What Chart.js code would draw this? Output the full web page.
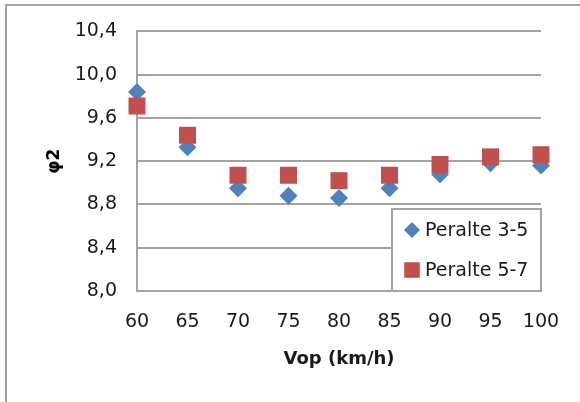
<!DOCTYPE html>
<html>
<head>
<meta charset="utf-8">
<script src="https://cdn.jsdelivr.net/npm/chart.js@4"></script>
<style>
  html, body { margin: 0; padding: 0; background: #ffffff; }
  #wrap { position: relative; width: 580px; height: 402px; overflow: hidden; }
  #frame { position: absolute; left: 5px; top: 4px; right: -4px; bottom: -4px;
           border-top: 2px solid #a3a3a3; border-left: 2px solid #a3a3a3; pointer-events: none; }
  canvas { position: absolute; left: 0; top: 0; }
</style>
</head>
<body>
<div id="wrap">
  <canvas id="chart" width="580" height="402"></canvas>
  <div id="frame"></div>
</div>
<script>
// Operating speed (km/h)
const speeds = [60, 65, 70, 75, 80, 85, 90, 95, 100];
// φ2 for each superelevation range
const peralte35 = [9.84, 9.33, 8.95, 8.88, 8.86, 8.95, 9.08, 9.18, 9.16];
const peralte57 = [9.71, 9.44, 9.07, 9.07, 9.02, 9.07, 9.17, 9.24, 9.26];
// Axis ticks
const xTicks = [60, 65, 70, 75, 80, 85, 90, 95, 100];
const yTicks = [8.0, 8.4, 8.8, 9.2, 9.6, 10.0, 10.4];

const seriesNames = ['Peralte 3-5', 'Peralte 5-7'];
const BLUE = '#4f81bd';
const RED = '#c0504d';
const GRID = '#a3a3a3';
const FONT = "'DejaVu Sans', Verdana, sans-serif";

const toPoints = (ys) => speeds.map((x, i) => ({ x: x, y: ys[i] }));

function marker(ctx, style, radius, x, y, color) {
  ctx.save();
  ctx.fillStyle = color;
  ctx.beginPath();
  if (style === 'rectRot') {
    ctx.moveTo(x - radius, y);
    ctx.lineTo(x, y - radius);
    ctx.lineTo(x + radius, y);
    ctx.lineTo(x, y + radius);
  } else {
    const s = radius * Math.SQRT1_2;
    ctx.rect(x - s, y - s, 2 * s, 2 * s);
  }
  ctx.closePath();
  ctx.fill();
  ctx.restore();
}

// Boxed legend sitting in the lower-right corner of the plot
const boxLegend = {
  id: 'boxLegend',
  afterDatasetsDraw(chart) {
    const ctx = chart.ctx;
    const a = chart.chartArea;
    const w = 149, h = 82;
    const x0 = a.right - w, y0 = a.bottom - h;
    ctx.save();
    ctx.fillStyle = '#ffffff';
    ctx.fillRect(x0, y0, w, h);
    ctx.strokeStyle = GRID;
    ctx.lineWidth = 2;
    ctx.strokeRect(x0, y0, w, h);
    ctx.font = '19px ' + FONT;
    ctx.fillStyle = '#1a1a1a';
    ctx.textBaseline = 'middle';
    ctx.textAlign = 'left';
    chart.data.datasets.forEach((ds, i) => {
      const cy = y0 + 21 + i * 40;
      const size = ds.pointStyle === 'rectRot' ? 8 : 11;
      marker(ctx, ds.pointStyle, size, x0 + 20, cy, ds.backgroundColor);
      ctx.fillText(ds.label, x0 + 33, cy + 1);
    });
    ctx.restore();
  }
};

new Chart(document.getElementById('chart'), {
  type: 'scatter',
  data: {
    datasets: [
      {
        label: seriesNames[0],
        data: toPoints(peralte35),
        pointStyle: 'rectRot',
        pointRadius: 9,
        pointHoverRadius: 9,
        backgroundColor: BLUE,
        borderColor: BLUE,
        borderWidth: 0,
        clip: false,
        order: 1
      },
      {
        label: seriesNames[1],
        data: toPoints(peralte57),
        pointStyle: 'rect',
        pointRadius: 12,
        pointHoverRadius: 12,
        backgroundColor: RED,
        borderColor: RED,
        borderWidth: 0,
        clip: false,
        order: 0
      }
    ]
  },
  options: {
    responsive: false,
    animation: false,
    devicePixelRatio: 1,
    layout: { padding: { left: 0, top: 31, right: 39, bottom: 0 } },
    plugins: {
      legend: { display: false },
      tooltip: { enabled: false }
    },
    scales: {
      x: {
        type: 'linear',
        min: 60,
        max: 100,
        afterBuildTicks(scale) { scale.ticks = xTicks.map(v => ({ value: v })); },
        afterFit(scale) { scale.height = 111; },
        grid: { display: false, drawTicks: false },
        border: { display: false },
        ticks: {
          padding: 20,
          color: '#1a1a1a',
          font: { family: FONT, size: 19 },
          callback: (v) => String(v)
        },
        title: {
          display: true,
          text: 'Vop (km/h)',
          color: '#1a1a1a',
          font: { family: FONT, size: 18, weight: 'bold' },
          padding: { top: 0, bottom: 32 }
        }
      },
      y: {
        type: 'linear',
        min: 8.0,
        max: 10.4,
        afterBuildTicks(scale) { scale.ticks = yTicks.map(v => ({ value: v })); },
        afterFit(scale) { scale.width = 137; },
        grid: { color: GRID, lineWidth: 2, drawTicks: false },
        border: { display: true, color: GRID, width: 2 },
        ticks: {
          padding: 20,
          color: '#1a1a1a',
          font: { family: FONT, size: 19 },
          callback: (v) => v.toFixed(1).replace('.', ',')
        },
        title: {
          display: true,
          text: 'φ2',
          color: '#000000',
          font: { family: FONT, size: 17, weight: 'bold' },
          padding: { top: 44, bottom: 0 }
        }
      }
    }
  },
  plugins: [boxLegend]
});
</script>
</body>
</html>
